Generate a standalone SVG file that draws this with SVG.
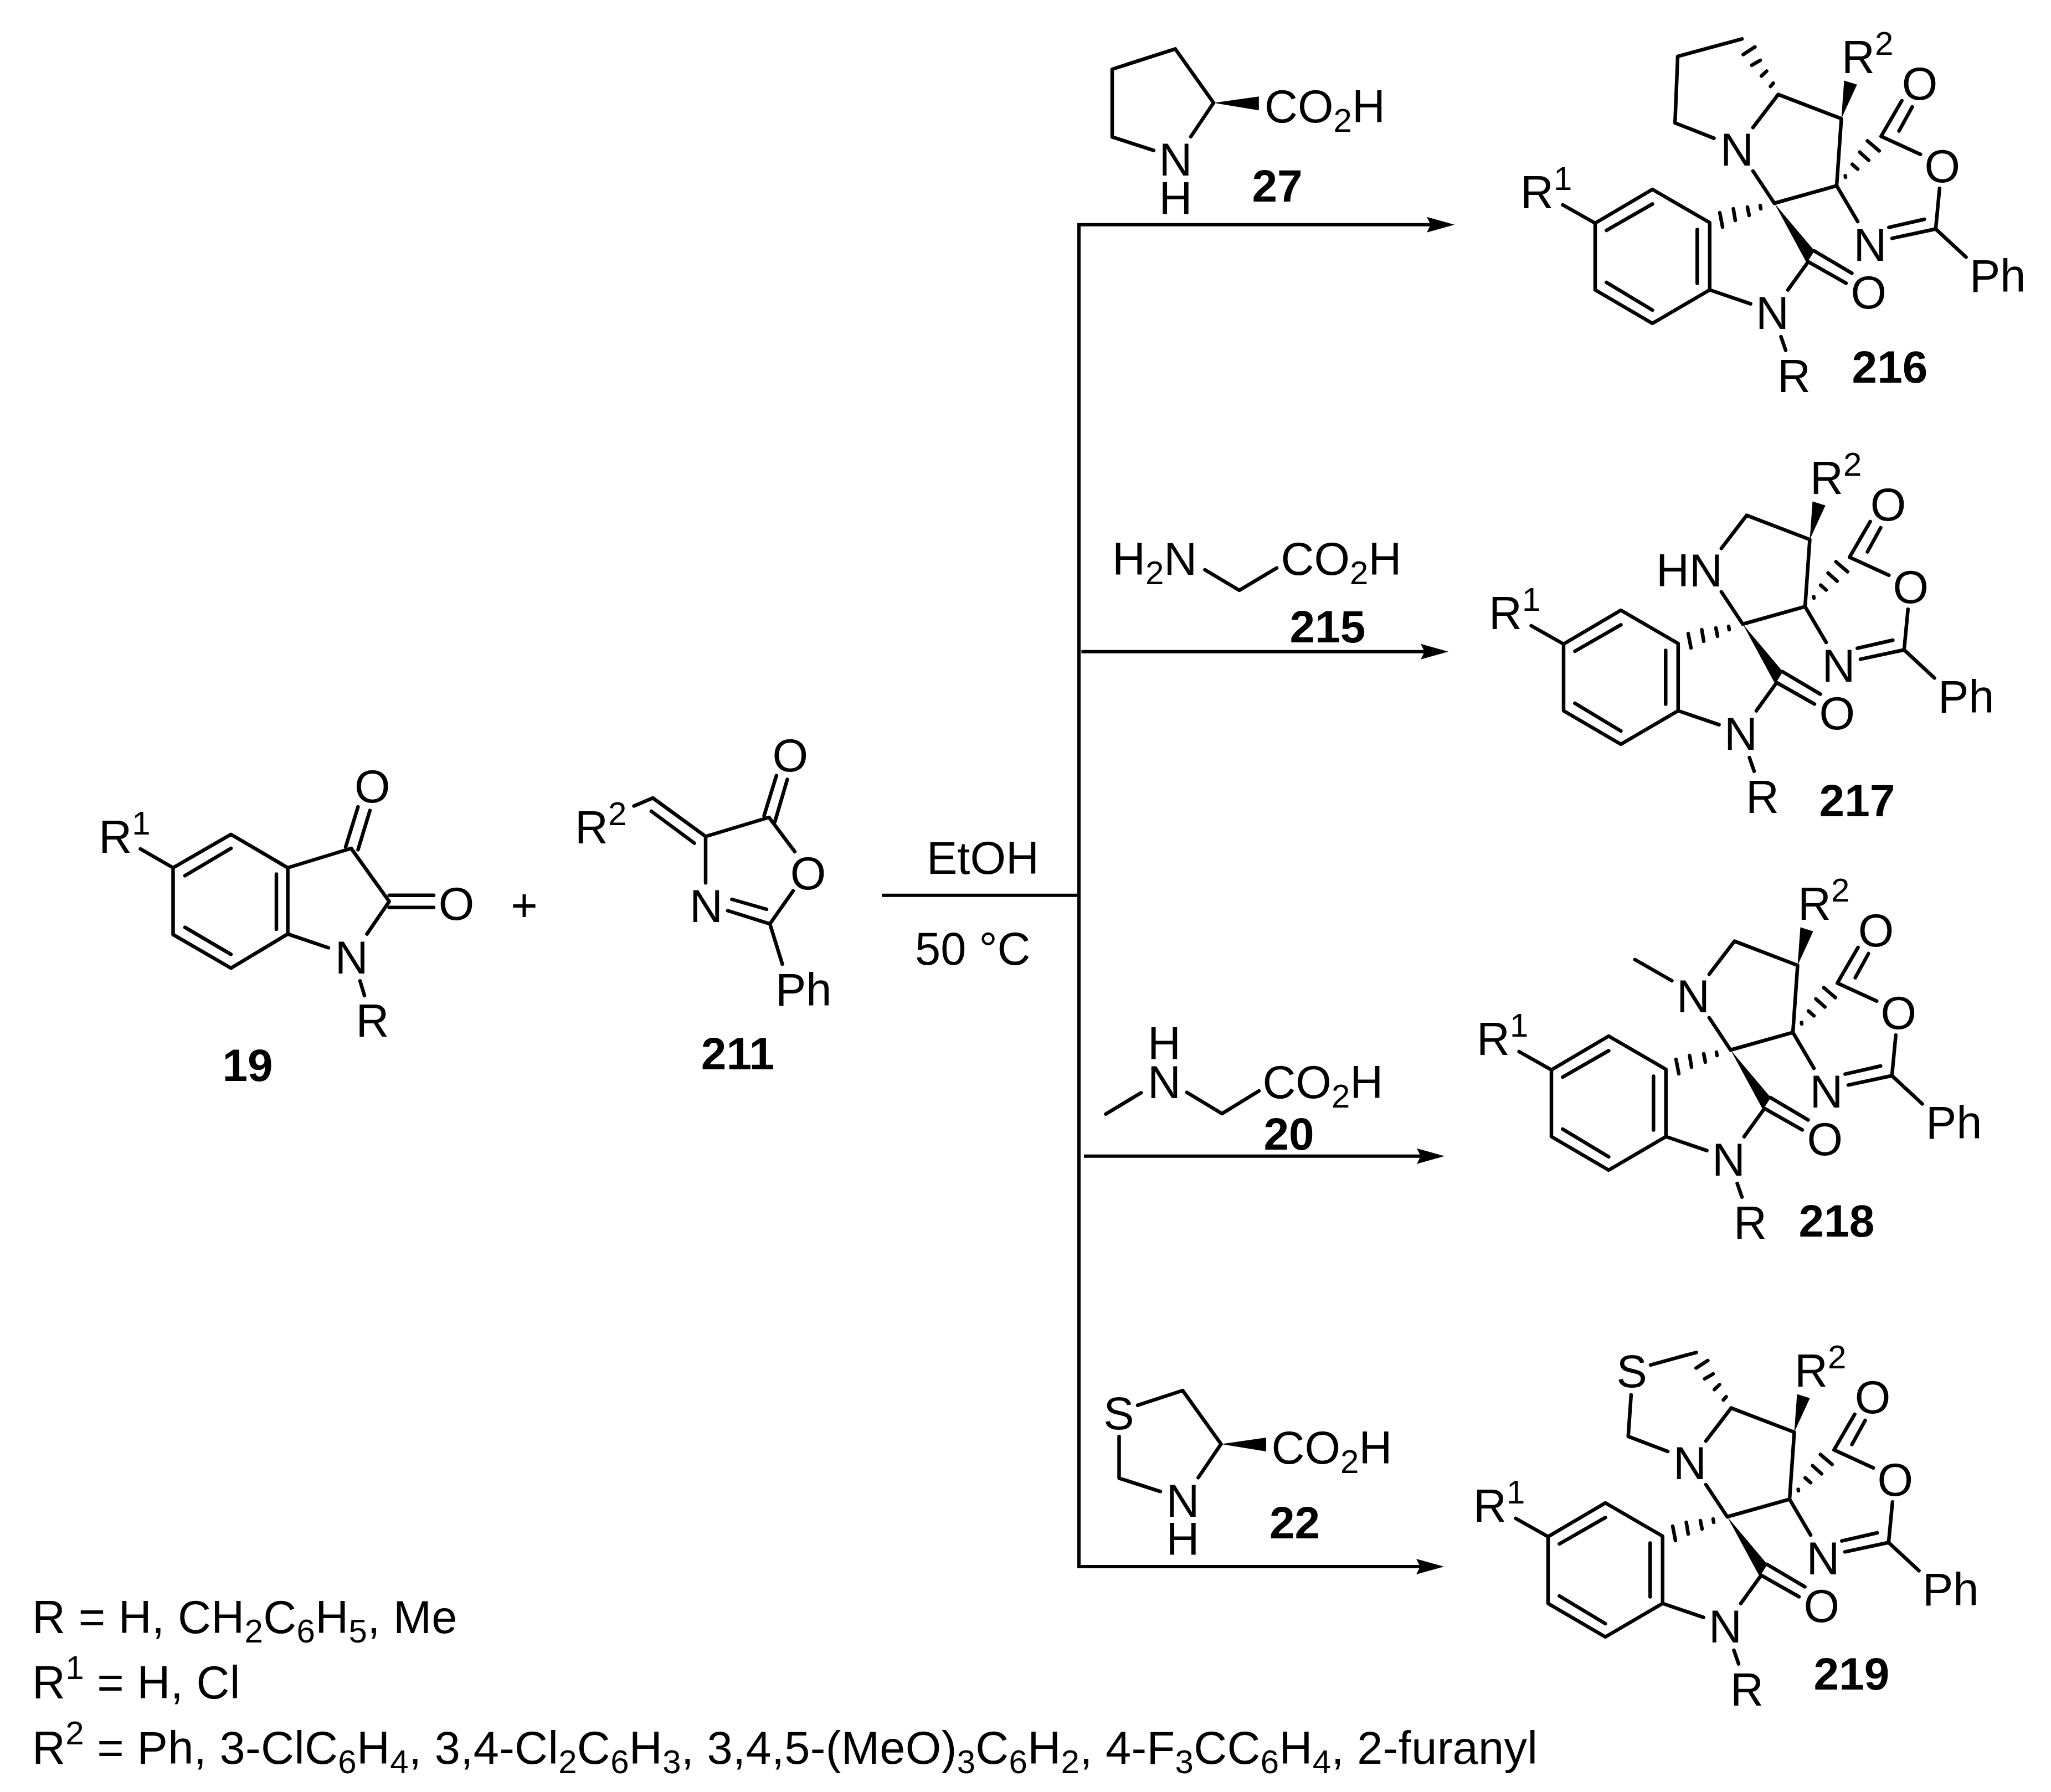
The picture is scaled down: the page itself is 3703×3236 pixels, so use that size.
<svg xmlns="http://www.w3.org/2000/svg" xmlns:xlink="http://www.w3.org/1999/xlink" width="3703" height="3236" viewBox="0 0 3703 3236">
<style>
text{font-family:"Liberation Sans",Arial,sans-serif;font-size:83px;fill:#000}
.b{font-weight:bold;font-size:82px;text-anchor:middle}
.m{text-anchor:middle}
.e{text-anchor:end}
.s{font-size:60px}
.leg{letter-spacing:.33px}
.bond{fill:none;stroke:#000;stroke-width:6.5;stroke-linecap:round;stroke-linejoin:round}
.conn{fill:none;stroke:#000;stroke-width:6;stroke-linecap:butt;stroke-linejoin:miter}
.w{fill:#000;stroke:none}
</style>
<defs>
<marker id="ah" viewBox="0 0 50 28" markerWidth="50" markerHeight="28" refX="40" refY="14" markerUnits="userSpaceOnUse" orient="auto"><path d="M50 14L0 0L7 14L0 28Z" fill="#000"/></marker>
<g id="core">
<path class="bond" d="M2821.6 370L2880 403L2983.4 342L3086.8 402V523.5L2983.4 584L2880 523.5V403M2900.4 416L2983.4 368.4M3064.3 414.5V511.4M2900.4 510L2983.4 560M3086.8 523.5L3160.6 548.7M3228 523.5L3264.7 472.6L3333 511.4M3275.3 453L3343.5 493.4M3215.5 608L3224 632.6M3203.5 367L3316 335.4L3324.5 214.3L3210.6 170.6L3164.9 230.2M3164.9 308.8L3203.5 367M3316 335.4L3354 400M3396.3 246.2L3433.6 181.8M3428.6 236.5L3452.5 193M3396.3 246.2L3467.3 278.7M3501.8 340.3L3494.8 413.5L3416 430.4M3474.4 396L3410.3 410.6M3494.8 413.5L3549.6 464.4"/>
<path class="bond" d="M3178 371L3179 377M3155 374L3158 389M3129.5 377L3133 398M3105 384L3110 410M3331.6 317.5L3332 320M3344.2 296.7L3354 305.4M3357.6 274.8L3373.8 289.4M3371.7 254.5L3392.8 272.4"/>
<polygon class="w" points="3203.5,367 3262,475 3276,453"/>
<polygon class="w" points="3324.5,214.3 3329.5,145.4 3352.7,152.7"/>
</g>
<path id="hashTop" class="bond" d="M3201.5 150.3L3196.5 156M3189.5 128.5L3180.3 137.2M3178 109L3162.8 117.8M3168.4 84.8L3147.3 98.4"/>
</defs>

<g id="connectors">
<path class="conn" d="M1592 1616.7H1948M1948 403V2832"/>
<path class="conn" marker-end="url(#ah)" d="M1945 405.7H2616"/>
<path class="conn" marker-end="url(#ah)" d="M1952.4 1176.7H2605"/>
<path class="conn" marker-end="url(#ah)" d="M1957 2087.7H2598"/>
<path class="conn" marker-end="url(#ah)" d="M1945 2829H2597"/>
</g>

<g id="compound-19">
<path class="bond" d="M253.6 1533L312.5 1567L417 1506.7L519.6 1567V1686.6L417 1748.3L312.5 1687.6V1567M334 1581.3L417 1532M499 1578.5V1678M334 1674.6L417 1723.4M519.6 1567L634 1532L702.7 1627.8L662.5 1686.6M519.6 1686.6L592.9 1711.5M650 1771.3L658 1797.6M624 1529.7L646.4 1457M646.4 1534.4L667.9 1463.6M702.7 1616.7H783M702.7 1638.8H783"/>
<text x="178.3" y="1540">R<tspan class="s" dy="-33">1</tspan></text>
<text class="m" x="634.8" y="1758.4">N</text>
<text x="642.5" y="1871.8">R</text>
<text class="m" x="672.3" y="1449.3">O</text>
<text class="m" x="824" y="1661">O</text>
<text class="b" x="447" y="1951.7">19</text>
</g>
<g id="plus"><text class="m" x="946.4" y="1663">+</text></g>
<g id="compound-211">
<path class="bond" d="M1144.6 1455.5L1178.6 1441L1274 1510.5L1388.4 1476L1434.8 1537.8M1176 1465L1253.6 1522.5M1274 1510.5V1594.3M1379.5 1473L1401.8 1400.5M1399 1484L1421.4 1407.7M1432 1608.6L1390 1668.4L1314 1644.5M1384 1642L1321.4 1624M1390 1668.4L1412.5 1741"/>
<text x="1038" y="1522.5">R<tspan class="s" dy="-33">2</tspan></text>
<text class="m" x="1275" y="1664.6">N</text>
<text class="m" x="1426.8" y="1393">O</text>
<text class="m" x="1459" y="1606">O</text>
<text x="1400" y="1815.8">Ph</text>
<text class="b" x="1332" y="1930.6">211</text>
</g>

<g id="conditions">
<text x="1673" y="1577.7">EtOH</text>
<text x="1652" y="1741.7">50 °C</text>
</g>

<g id="reagent-27">
<path class="bond" d="M2083 271.7L2008 247.3V125L2121.9 88.3L2191 185.7L2150 246.7"/>
<polygon class="w" points="2191,185.7 2272.8,174.3 2272.8,199.3"/>
<text x="2283" y="221">CO<tspan class="s" dy="17">2</tspan><tspan dy="-17">H</tspan></text>
<text class="m" x="2122.5" y="317.3">N<tspan x="2122.5" dy="69.4">H</tspan></text>
<text class="b" x="2306" y="364.3">27</text>
</g>
<g id="reagent-215">
<path class="bond" d="M2175.5 1029L2237.5 1066L2305 1025.7"/>
<text x="2008" y="1038">H<tspan class="s" dy="17">2</tspan><tspan dy="-17">N</tspan></text>
<text x="2312.5" y="1038">CO<tspan class="s" dy="17">2</tspan><tspan dy="-17">H</tspan></text>
<text class="b" x="2397" y="1160">215</text>
</g>
<g id="reagent-20">
<path class="bond" d="M1996.5 2011.7L2060.3 1973.3M2143 1972.7L2206.3 2011L2273 1970"/>
<text class="m" x="2102" y="1913.3">H<tspan x="2102" dy="69.4">N</tspan></text>
<text x="2279.4" y="1983">CO<tspan class="s" dy="17">2</tspan><tspan dy="-17">H</tspan></text>
<text class="b" x="2327" y="2075.7">20</text>
</g>
<g id="reagent-22">
<path class="bond" d="M2054 2537.7L2135.3 2511L2204.5 2607.7L2163.4 2668.3M2020.5 2594V2669.3L2095 2693.3"/>
<polygon class="w" points="2204.5,2607.7 2286,2596 2286,2621"/>
<text class="m" x="2020" y="2581">S</text>
<text x="2295.6" y="2642.7">CO<tspan class="s" dy="17">2</tspan><tspan dy="-17">H</tspan></text>
<text class="m" x="2135.5" y="2739.3">N<tspan x="2135.5" dy="69">H</tspan></text>
<text class="b" x="2337.5" y="2778.3">22</text>
</g>

<g id="compound-216">
<use xlink:href="#core" href="#core"/>
<use xlink:href="#hashTop" href="#hashTop"/>
<path class="bond" d="M3094.5 249.6L3024.2 222L3029 101.8L3145 70.3"/>
<text class="m" x="3136" y="299">N</text>
<text x="2745" y="376">R<tspan class="s" dy="-33">1</tspan></text>
<text x="3325" y="132">R<tspan class="s" dy="-33">2</tspan></text>
<text class="m" x="3466" y="180">O</text>
<text class="m" x="3506.7" y="328.6">O</text>
<text class="m" x="3376.6" y="471">N</text>
<text class="m" x="3200" y="594">N</text>
<text class="m" x="3373.8" y="556.5">O</text>
<text x="3209" y="707.7">R</text>
<text x="3556" y="527.4">Ph</text>
<text class="b" x="3412" y="691">216</text>
</g>
<g id="compound-217">
<g transform="translate(-57,760)">
<use xlink:href="#core" href="#core"/>
<text class="e" x="3167" y="299">HN</text>
<text x="2745" y="376">R<tspan class="s" dy="-33">1</tspan></text>
<text x="3325" y="132">R<tspan class="s" dy="-33">2</tspan></text>
<text class="m" x="3466" y="180">O</text>
<text class="m" x="3506.7" y="328.6">O</text>
<text class="m" x="3376.6" y="471">N</text>
<text class="m" x="3200" y="594">N</text>
<text class="m" x="3373.8" y="556.5">O</text>
<text x="3209" y="707.7">R</text>
<text x="3556" y="527.4">Ph</text>
</g>
<text class="b" x="3353" y="1474">217</text>
</g>
<g id="compound-218">
<g transform="translate(-79,1529)">
<use xlink:href="#core" href="#core"/>
<path class="bond" d="M3097.5 242L3030.7 203.8"/>
<text class="m" x="3136" y="299">N</text>
<text x="2745" y="376">R<tspan class="s" dy="-33">1</tspan></text>
<text x="3325" y="132">R<tspan class="s" dy="-33">2</tspan></text>
<text class="m" x="3466" y="180">O</text>
<text class="m" x="3506.7" y="328.6">O</text>
<text class="m" x="3376.6" y="471">N</text>
<text class="m" x="3200" y="594">N</text>
<text class="m" x="3373.8" y="556.5">O</text>
<text x="3209" y="707.7">R</text>
<text x="3556" y="527.4">Ph</text>
</g>
<text class="b" x="3316" y="2233">218</text>
</g>
<g id="compound-219">
<g transform="translate(-85,2372)">
<use xlink:href="#core" href="#core"/>
<use xlink:href="#hashTop" href="#hashTop"/>
<path class="bond" d="M3065 92.8L3147.5 70.3M3029.9 146.9L3024.7 221.9L3096 249"/>
<text class="m" x="3031.3" y="132.5">S</text>
<text class="m" x="3136" y="299">N</text>
<text x="2745" y="376">R<tspan class="s" dy="-33">1</tspan></text>
<text x="3325" y="132">R<tspan class="s" dy="-33">2</tspan></text>
<text class="m" x="3466" y="180">O</text>
<text class="m" x="3506.7" y="328.6">O</text>
<text class="m" x="3376.6" y="471">N</text>
<text class="m" x="3200" y="594">N</text>
<text class="m" x="3373.8" y="556.5">O</text>
<text x="3209" y="707.7">R</text>
<text x="3556" y="527.4">Ph</text>
</g>
<text class="b" x="3343" y="3050.5">219</text>
</g>

<g id="legend">
<text class="leg" x="58" y="2949">R = H, CH<tspan class="s" dy="17">2</tspan><tspan dy="-17">C</tspan><tspan class="s" dy="17">6</tspan><tspan dy="-17">H</tspan><tspan class="s" dy="17">5</tspan><tspan dy="-17">, Me</tspan></text>
<text class="leg" x="58" y="3067.3">R<tspan class="s" dy="-35">1</tspan><tspan dy="35"> = H, Cl</tspan></text>
<text class="leg" x="58" y="3185">R<tspan class="s" dy="-35">2</tspan><tspan dy="35"> = Ph, 3-ClC</tspan><tspan class="s" dy="17">6</tspan><tspan dy="-17">H</tspan><tspan class="s" dy="17">4</tspan><tspan dy="-17">, 3,4-Cl</tspan><tspan class="s" dy="17">2</tspan><tspan dy="-17">C</tspan><tspan class="s" dy="17">6</tspan><tspan dy="-17">H</tspan><tspan class="s" dy="17">3</tspan><tspan dy="-17">, 3,4,5-(MeO)</tspan><tspan class="s" dy="17">3</tspan><tspan dy="-17">C</tspan><tspan class="s" dy="17">6</tspan><tspan dy="-17">H</tspan><tspan class="s" dy="17">2</tspan><tspan dy="-17">, 4-F</tspan><tspan class="s" dy="17">3</tspan><tspan dy="-17">CC</tspan><tspan class="s" dy="17">6</tspan><tspan dy="-17">H</tspan><tspan class="s" dy="17">4</tspan><tspan dy="-17">, 2-furanyl</tspan></text>
</g>
</svg>
